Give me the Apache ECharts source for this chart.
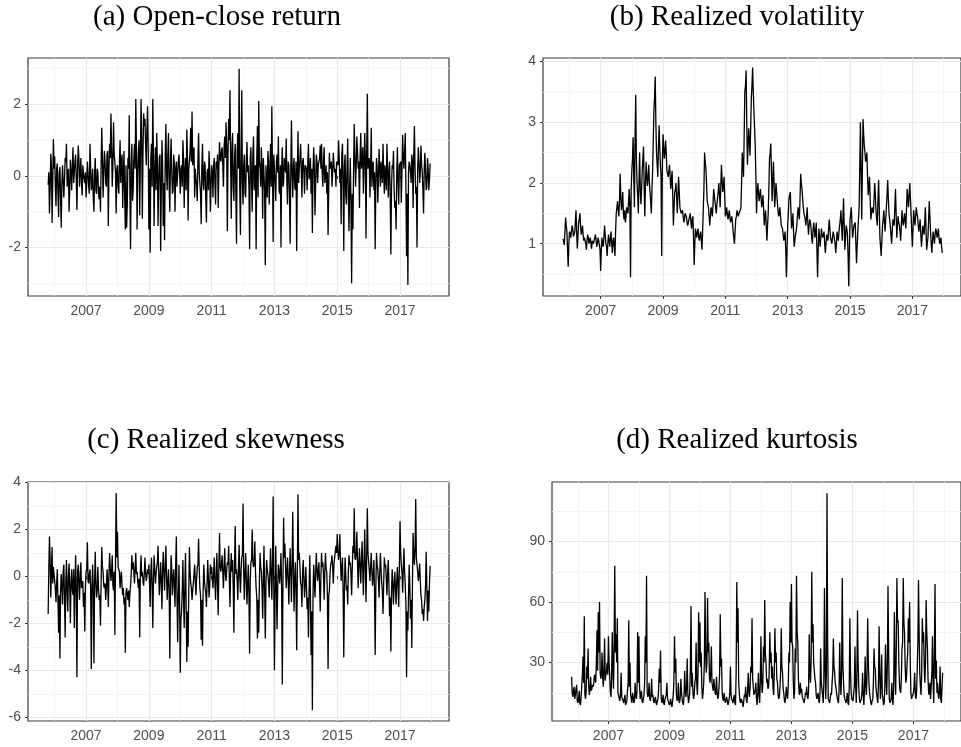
<!DOCTYPE html>
<html><head><meta charset="utf-8">
<script src="https://cdn.jsdelivr.net/npm/echarts@6/dist/echarts.min.js"></script>
<style>html,body{margin:0;padding:0;background:#fff}#c{width:961px;height:747px}</style>
</head><body><div id="c"></div>
<script>
// time index: observations every half month starting mid-Oct 2005,
// plus in-between observations (the *Mid arrays) a quarter month later
const START = 2005 + 19 / 24;
const STEP = 1 / 24;
const yearTicks = [2007, 2009, 2011, 2013, 2015, 2017];
const yearMinor = [2006, 2008, 2010, 2012, 2014, 2016, 2018];

const titles = ['(a) Open-close return', '(b) Realized volatility', '(c) Realized skewness', '(d) Realized kurtosis'];

const ocReturn = [
 -0.25,-1.05,0.62,-1.32,1.03,
 0.55,-0.85,0.35,-1.15,0.25,-1.45,0.3,-0.6,0.5,0.9,-0.35,-1.0,0.45,-0.4,0.8,-0.25,0.6,-0.95,0.85,-0.3,0.5,-0.55,0.3,-0.2,
 -0.6,0.4,-0.3,0.9,-0.4,0.2,-1.0,0.5,-0.5,0.1,-0.65,-1.0,1.35,-0.6,0.7,-0.2,0.6,-1.4,0.9,1.75,-0.3,1.5,0.4,-1.05,
 0.3,-0.5,1.0,0.4,-0.9,0.7,-1.5,-1.45,0.5,1.7,-2.05,0.9,-0.4,0.9,2.15,-1.5,0.7,-1.1,2.15,-1.2,1.75,1.6,0.3,1.95,
 -1.5,-2.15,0.9,2.15,-1.4,0.8,1.2,-1.4,0.5,-2.1,1.0,-1.4,-1.8,1.45,-0.4,1.2,-1.0,1.05,-0.5,0.6,-1.0,0.4,-0.3,0.6,
 -0.5,0.3,1.0,-0.9,0.5,1.3,-1.25,0.4,1.35,1.8,0.6,-0.6,0.2,-0.7,1.2,0.1,-1.35,0.9,-0.4,0.3,-1.3,0.2,0.7,-1.0,
 0.3,-0.6,0.5,-0.8,0.2,-0.9,0.95,0.4,0.8,-0.3,1.1,1.5,-1.55,1.6,2.4,-1.2,1.2,-0.7,0.9,-1.9,1.2,3.0,-1.65,2.4,
 -0.8,0.6,-0.6,0.95,0.3,-2.05,0.8,-1.0,1.1,0.2,-2.05,1.4,2.1,0.2,0.8,-1.2,0.5,-2.5,0.3,0.7,-0.8,0.9,1.95,-1.85,
 0.2,-0.7,0.6,1.1,-0.5,-2.0,0.8,-0.2,0.5,1.05,-0.8,0.3,-1.9,1.55,-0.6,0.5,-0.4,-2.1,1.25,0.2,0.9,-0.6,0.5,-0.5,
 0.3,-0.4,0.9,0.1,-0.5,-1.6,0.8,-1.1,0.6,-0.2,0.4,0.85,0.9,-0.3,0.8,0.1,-0.5,-1.65,0.65,0.2,-0.3,0.65,0.1,-0.3,
 0.4,1.0,-0.2,-1.35,0.9,-2.1,0.6,-0.8,1.05,-1.55,0.5,-3.0,-1.5,1.45,-0.3,1.1,0.2,-0.9,1.2,0.4,-0.5,1.2,-1.75,2.3,
 0.4,-0.6,1.35,0.2,-0.4,-2.05,0.5,-0.75,0.75,-0.3,0.4,0.9,-0.5,0.3,0.9,-0.6,0.4,-2.2,0.3,0.7,-0.9,-1.5,0.8,-0.8,
 0.3,-0.75,1.15,0.2,1.2,-2.25,-3.05,0.4,0.1,0.6,-0.9,1.4,-0.5,-2.0,0.8,-0.2,0.85,0.1,-1.05,0.65,-0.4,0.5,-0.4,0.35
];
const ocReturnMid = [
 0.1,-0.4,0.3,-0.2,0.2,
 -0.3,0.2,-0.5,0.1,-0.6,-0.2,0.3,-0.1,0.4,-0.3,0.2,-0.4,0.1,0.3,-0.2,0.4,-0.1,0.2,0.5,0.1,-0.2,0.3,-0.1,0.1,
 -0.2,0.1,-0.5,0.2,-0.3,-0.6,0.1,-0.4,0.2,-0.5,-0.3,0.3,0.5,0.1,0.4,-0.3,0.7,0.2,0.5,0.8,0.3,0.6,0.1,0.2,
 -0.3,0.4,-0.2,0.6,0.1,-0.6,0.3,-0.8,0.2,-0.5,0.3,-0.7,0.5,0.2,0.8,0.1,1.0,0.4,1.2,0.6,1.4,0.9,1.3,0.8,
 0.2,0.5,-0.3,0.6,0.1,-0.4,0.4,-0.2,0.6,-0.5,0.3,-0.2,0.5,0.1,0.6,-0.3,0.4,0.1,-0.4,0.3,0.2,-0.3,0.4,0.1,
 0.2,-0.3,0.5,0.1,-0.4,0.6,0.2,0.7,0.4,0.3,0.8,0.2,-0.3,0.4,0.1,-0.5,0.3,-0.2,0.4,-0.6,0.1,-0.4,0.2,-0.3,
 0.1,0.3,-0.2,0.4,0.6,0.2,0.5,0.7,0.3,0.8,0.5,0.9,0.6,1.0,0.4,0.8,-0.3,0.5,-0.5,0.7,0.2,-0.4,0.6,-0.2,
 0.3,-0.5,0.4,0.1,-0.3,0.5,-0.2,0.6,-0.4,0.3,0.5,-0.6,0.4,-0.3,0.2,0.5,-0.4,0.3,-0.6,0.4,0.1,-0.3,0.2,0.6,
 -0.2,0.4,0.1,-0.4,0.3,0.2,-0.3,0.5,0.1,-0.2,0.4,-0.5,0.2,0.1,0.3,-0.3,0.4,0.1,-0.2,0.5,0.2,0.4,0.1,0.3,
 0.2,0.4,-0.1,0.5,0.2,0.1,0.3,-0.2,0.4,0.3,0.5,0.2,0.1,0.4,-0.2,0.3,0.1,-0.4,0.2,0.4,0.1,0.3,0.2,0.4,
 0.3,0.5,0.2,0.6,-0.2,0.3,-0.5,0.2,-0.6,-0.3,-0.8,-0.5,0.2,0.6,0.3,0.7,0.4,0.6,0.2,0.8,0.3,0.5,0.6,0.2,
 0.5,0.2,-0.3,0.4,0.1,-0.2,0.3,-0.1,0.2,0.4,-0.2,0.1,0.3,-0.4,0.2,0.1,-0.6,-0.3,0.2,-0.4,-0.7,0.1,-0.2,0.3,
 0.4,0.2,0.5,0.7,-0.3,-0.5,0.1,0.3,-0.2,0.4,0.6,0.2,-0.3,0.2,0.4,0.1,0.3,-0.4,0.2,0.1,-0.3,0.2,-0.1
];

const realVol = [
 1.08,0.98,1.43,1.2,0.62,
 1.2,1.1,1.3,1.12,1.18,1.55,0.92,1.35,1.5,1.15,1.3,1.05,1.12,0.9,1.15,1.0,1.1,0.92,1.08,1.0,1.15,0.95,1.1,0.98,
 0.55,1.1,0.95,1.3,1.0,0.8,1.15,0.95,1.2,0.85,1.1,0.8,1.5,1.7,1.45,2.15,1.55,1.85,1.4,1.35,1.6,1.5,1.9,0.45,
 2.2,2.75,1.6,3.45,2.0,1.5,2.5,1.65,2.2,2.6,1.45,2.35,1.95,2.3,1.85,1.5,2.2,3.2,3.75,2.5,2.1,2.95,2.3,0.8,
 2.8,2.4,2.7,2.2,2.1,2.3,1.9,2.2,1.3,1.85,2.0,1.5,2.1,1.6,1.5,1.55,1.35,1.5,1.45,1.3,1.4,1.5,1.25,1.45,
 0.65,1.25,1.1,1.25,1.05,1.2,0.9,1.55,2.5,2.25,1.7,1.6,1.3,1.6,1.45,1.9,1.7,1.5,1.75,2.0,1.6,2.3,1.85,2.1,
 1.45,1.6,1.4,1.55,1.35,1.45,1.2,1.0,1.4,1.55,1.45,1.5,1.6,2.5,2.1,3.5,3.85,2.3,2.9,2.45,3.4,3.9,3.2,2.6,
 1.5,2.0,1.7,1.9,1.6,1.8,1.3,1.55,1.05,1.5,2.4,2.65,1.7,2.35,1.6,2.0,1.7,1.45,1.6,1.3,1.25,1.05,1.2,0.45,
 1.3,1.75,1.85,1.25,1.5,0.95,1.15,1.3,1.6,1.4,2.15,1.9,1.6,1.45,1.3,1.6,1.15,1.4,1.25,1.0,1.35,1.1,1.35,0.45,
 1.25,0.95,1.25,1.1,1.2,0.85,1.15,1.05,1.4,1.1,1.0,1.2,1.15,0.85,1.2,1.05,1.3,1.55,1.05,1.75,0.9,1.3,1.15,0.3,
 1.4,1.6,1.1,1.3,1.35,0.68,1.2,1.6,3.0,1.4,3.05,2.6,2.35,2.5,1.8,2.1,1.4,1.6,1.5,2.0,1.55,1.3,2.05,1.1,
 0.8,1.3,1.55,1.2,1.6,2.05,1.5,1.3,1.0,1.4,1.3,1.9,1.1,1.45,1.3,1.05,1.55,1.3,1.5,1.25,1.9,1.6,2.0,1.5,
 0.95,1.55,1.3,1.6,1.45,1.2,1.4,0.95,1.3,1.15,1.6,0.9,1.1,1.7,1.2,0.85,1.2,1.0,1.25,1.1,1.25,1.0,1.1,0.85
];
const realVolMid = [
 1.1,1.2,1.3,0.9,1.0,
 1.15,1.2,1.25,1.15,1.35,1.2,1.1,1.4,1.3,1.2,1.15,1.1,1.0,1.05,1.1,1.05,1.0,1.05,1.0,1.1,1.05,1.0,1.05,0.9,
 0.9,1.0,1.1,1.15,0.95,1.0,1.05,1.1,1.0,1.05,0.95,1.2,1.6,1.55,1.7,1.8,1.65,1.5,1.55,1.45,1.55,1.7,1.6,1.9,
 2.4,2.1,2.8,2.4,1.8,2.0,1.9,1.9,2.4,1.9,2.0,2.1,2.1,2.0,1.7,1.9,2.7,3.4,3.0,2.3,2.6,2.6,2.1,2.3,
 2.6,2.5,2.5,2.15,2.2,2.1,2.05,1.8,1.6,1.9,1.75,1.8,1.85,1.55,1.5,1.45,1.4,1.5,1.35,1.35,1.45,1.35,1.4,1.1,
 1.0,1.15,1.2,1.1,1.15,1.05,1.2,1.9,2.35,2.0,1.65,1.45,1.45,1.55,1.65,1.8,1.6,1.65,1.85,1.8,1.95,2.05,1.95,1.8,
 1.5,1.5,1.45,1.45,1.4,1.35,1.1,1.2,1.45,1.5,1.5,1.55,2.0,2.3,2.8,3.6,3.0,2.6,2.7,2.9,3.6,3.5,2.9,2.1,
 1.8,1.85,1.8,1.75,1.7,1.55,1.45,1.3,1.3,1.9,2.5,2.2,2.0,2.0,1.8,1.85,1.55,1.5,1.45,1.3,1.15,1.1,0.9,0.9,
 1.5,1.8,1.55,1.35,1.2,1.05,1.2,1.45,1.5,1.75,2.0,1.75,1.5,1.4,1.45,1.35,1.3,1.35,1.1,1.2,1.25,1.2,0.9,0.9,
 1.1,1.1,1.15,1.15,1.0,1.0,1.1,1.25,1.25,1.05,1.1,1.15,1.0,1.0,1.1,1.2,1.4,1.3,1.4,1.3,1.1,1.25,0.8,0.9,
 1.5,1.3,1.2,1.3,1.0,0.95,1.4,2.3,2.2,2.2,2.8,2.5,2.4,2.1,1.95,1.75,1.5,1.55,1.75,1.8,1.4,1.7,1.6,0.95,
 1.05,1.4,1.35,1.4,1.8,1.75,1.4,1.15,1.2,1.35,1.6,1.5,1.3,1.35,1.2,1.3,1.4,1.4,1.35,1.6,1.75,1.8,1.75,1.2,
 1.25,1.4,1.45,1.5,1.3,1.3,1.15,1.1,1.2,1.35,1.25,1.0,1.4,1.45,1.0,1.05,1.1,1.15,1.2,1.15,1.1,1.05,0.95
];

const realSkew = [
 -1.6,1.7,-0.9,1.25,0.4,
 -0.2,-1.1,0.3,-2.4,-3.5,0.1,-1.2,0.5,-2.6,0.7,-1.5,0.55,-2.0,0.3,-0.8,-2.2,0.9,-4.3,0.5,-1.0,0.6,-0.3,-1.3,-2.35,
 0.2,1.45,-0.3,0.3,-3.95,0.5,-3.7,1.05,-0.9,0.4,-1.0,-2.1,1.25,0.2,-0.5,-1.0,0.3,-1.3,1.0,-0.2,0.9,-0.6,-2.5,3.55,
 1.9,0.3,-0.5,0.2,-0.8,-1.2,-3.25,-0.5,-1.0,-1.3,-0.4,0.9,0.6,-0.3,1.0,0.2,-0.5,-2.6,0.9,0.2,-0.4,0.8,-0.2,0.3,
 0.5,-1.3,0.8,-2.2,0.9,-0.3,0.4,1.3,-0.8,0.6,-1.4,1.05,-0.6,1.3,-1.0,0.3,-3.5,0.9,-0.8,0.3,-1.3,1.7,-2.8,0.5,
 -4.1,-1.5,0.7,-2.2,1.0,-3.65,-3.0,1.25,-0.3,-1.0,-0.3,0.5,-0.8,0.4,1.6,-0.5,-2.7,-2.95,0.5,-0.5,-1.3,0.7,-0.9,0.5,
 0.4,-0.5,0.8,-1.0,1.0,-1.65,1.85,0.2,0.9,-0.5,1.2,-0.2,0.6,1.3,-1.3,1.0,0.7,-2.4,2.15,0.3,-1.0,1.35,-0.7,0.8,
 3.1,-1.0,1.0,-1.2,0.5,-3.3,0.6,2.0,0.4,1.5,-0.5,-2.65,-2.4,1.0,0.2,-1.8,1.3,-2.65,0.7,0.1,-0.9,1.2,-1.0,3.4,
 -4.0,1.3,-2.25,0.5,-0.3,1.0,-4.6,2.5,1.4,-0.5,0.8,-1.2,1.2,-1.1,2.75,-1.5,0.6,-3.15,3.5,1.0,-0.3,-1.3,0.7,-0.9,
 0.4,-1.4,-2.6,0.9,-3.35,-5.7,0.5,-0.9,1.0,-0.2,0.6,-1.5,1.0,0.6,-1.0,1.0,0.2,-3.95,-0.6,0.5,0.9,-0.3,0.8,1.3,
 1.8,0.7,1.8,-0.2,0.8,-3.45,0.8,-0.6,-1.2,0.9,0.6,-0.8,1.3,2.9,0.7,1.9,-0.5,1.2,-0.3,1.5,-0.8,2.0,-1.1,2.9,
 0.6,-0.2,1.0,-0.4,0.7,-3.35,1.0,0.3,-0.9,1.0,-0.3,-1.6,0.8,0.5,-0.8,0.7,-1.7,-3.2,0.3,-1.2,0.2,-1.2,0.4,-1.3,
 2.35,0.5,-0.7,1.2,-0.4,-4.3,-2.3,0.5,-1.8,-3.05,1.85,0.5,3.3,0.5,-0.2,0.55,-0.8,-1.6,-1.9,-1.0,1.05,-1.9,-1.5,0.45
];
const realSkewMid = [
 0.3,0.8,0.2,-0.3,0.1,
 -0.5,-0.3,-1.0,-0.8,-0.6,-0.4,0.2,-0.9,-0.3,-0.7,0.1,-0.5,-0.2,-0.6,0.3,-0.4,-0.8,0.2,-0.3,0.1,-0.5,-0.2,-0.7,-0.4,
 0.3,-0.2,0.1,-0.6,-0.4,-0.7,-0.2,-0.3,-0.6,-0.5,-0.8,-0.2,0.4,-0.4,-0.3,-0.5,-0.2,0.1,0.3,0.2,-0.4,0.2,0.6,0.8,
 0.4,0.2,-0.1,-0.4,-0.5,-0.9,-0.7,-0.8,-0.6,-0.7,0.1,0.3,0.2,0.4,0.1,-0.2,-0.1,0.2,0.0,-0.2,0.1,0.2,0.0,0.1,
 -0.3,0.2,-0.4,-0.2,0.3,0.1,0.6,0.2,-0.1,-0.3,0.3,0.2,0.4,0.1,-0.3,-0.5,-0.6,0.3,-0.2,-0.4,0.5,-0.8,-0.9,-1.2,
 -1.8,-0.6,-0.9,-0.4,-1.1,-1.5,-0.7,0.2,-0.5,-0.6,0.1,-0.2,-0.1,0.5,0.3,-0.8,-1.0,-0.6,-0.2,-0.7,-0.3,-0.1,-0.4,0.1,
 -0.1,0.2,-0.3,0.1,-0.4,0.3,0.4,0.5,0.2,0.4,0.1,0.3,0.5,-0.1,0.3,0.2,-0.5,0.6,0.1,-0.2,0.4,0.0,0.2,0.9,
 0.2,0.1,-0.2,-0.3,-0.8,-0.2,0.7,0.6,0.5,0.2,-0.9,-1.0,-0.2,0.4,-0.5,-0.1,-0.6,-0.4,0.3,-0.3,0.2,0.1,0.6,-0.5,
 -0.8,-0.5,-0.4,0.2,0.3,-0.6,-0.3,0.8,0.4,0.2,-0.1,0.1,0.2,0.6,0.3,-0.2,-0.6,0.2,0.7,0.4,-0.4,0.2,-0.1,-0.3,
 -0.5,-0.9,-0.6,-0.8,-1.5,-0.7,-0.2,0.1,0.3,0.2,-0.4,-0.1,0.4,0.1,0.2,0.3,-0.9,-0.8,0.1,0.6,0.4,0.5,0.8,1.0,
 1.1,1.0,0.6,0.4,-0.6,-0.5,0.1,-0.4,0.2,0.5,0.1,0.4,1.0,0.8,1.0,0.6,0.5,0.4,0.7,0.3,0.6,0.4,0.8,1.0,
 0.3,0.4,0.2,0.1,-0.6,-0.5,0.5,-0.2,0.2,0.3,-0.6,-0.3,0.4,-0.1,0.1,-0.3,-0.9,-0.7,-0.4,-0.3,-0.5,-0.2,-0.4,0.4,
 1.0,0.2,0.3,0.2,-1.2,-1.5,-0.8,-0.5,-1.0,-0.3,0.9,1.2,0.8,0.2,0.1,-0.2,-1.0,-1.4,-1.3,-0.4,-0.5,-0.6,-0.3
];

const realKurt = [
 23,13,18,14,19,
 10,16,9,18,33,53,12,28,37,14,23,17,18,24,20,46,55,60,22,35,18,42,24,30,
 43,24,13,45,17,78,44,52,14,11,25,12,10,14,9,16,51,30,12,15,10,20,12,45,
 43,12,16,10,14,43,73,13,20,11,22,14,10,13,9,12,27,36,10,14,9,13,20,11,
 9,12,8,14,43,32,11,20,10,22,12,9,26,13,32,10,15,58,25,12,20,40,14,55,
 50,35,12,20,65,25,62,40,20,38,18,22,15,23,12,18,54,32,12,15,10,13,9,12,
 28,12,10,14,9,70,57,15,10,12,8,14,18,10,25,13,28,52,18,15,20,9,25,10,
 43,15,38,61,30,22,18,45,35,28,14,47,35,20,12,18,47,25,15,10,18,12,35,60,
 69,38,12,37,73,40,15,20,17,12,10,15,18,12,44,20,75,49,30,20,12,15,10,37,
 20,10,67,12,114,12,10,15,20,42,25,18,15,10,40,14,72,20,12,10,15,9,52,15,
 12,15,38,10,56,18,10,12,25,9,33,14,52,20,15,9,12,37,27,15,10,48,12,34,
 12,10,39,14,68,12,10,20,9,55,14,72,51,20,15,37,72,45,20,30,52,60,15,12,
 15,25,12,27,71,25,14,52,45,20,61,38,15,20,12,43,10,69,31,20,12,28,10,25
];
const realKurtMid = [
 15,16,12,17,11,
 12,10,13,24,20,14,16,22,18,17,16,19,20,22,30,26,35,25,24,22,28,21,26,24,
 30,16,22,28,40,35,30,15,12,14,13,11,12,9,11,20,18,14,10,13,11,14,16,20,
 18,13,11,12,20,30,15,14,12,14,13,11,12,10,11,17,20,13,11,10,12,14,12,10,
 10,9,11,20,25,14,12,11,13,15,10,14,16,18,14,12,28,18,15,14,22,20,25,30,
 28,18,15,30,35,30,35,22,25,20,16,18,14,16,13,25,28,15,11,12,10,11,10,15,
 14,11,12,10,25,40,20,11,12,10,11,13,12,15,16,18,25,22,14,16,12,15,14,20,
 22,20,30,35,20,17,25,30,22,18,25,30,22,14,13,25,28,17,11,13,14,18,30,40,
 40,20,16,30,45,22,14,15,13,11,12,14,13,16,25,30,40,30,22,14,12,11,15,20,
 14,20,30,25,40,11,12,14,25,28,20,15,11,16,22,25,30,14,11,12,10,18,25,12,
 11,18,20,22,30,12,10,15,14,16,20,25,30,15,10,11,20,28,18,12,20,25,20,14,
 9,18,22,30,35,10,12,11,20,28,35,50,30,16,22,40,50,28,22,35,40,30,12,14,
 18,14,16,40,45,18,25,40,28,30,45,22,14,12,25,20,35,22,15,14,16,12,18
];

const yRanges = [
  {min: -3.36, max: 3.3, major: [-2, 0, 2], minor: [-3, -1, 1, 3]},
  {min: 0.14, max: 4.056, major: [1, 2, 3, 4], minor: [0.5, 1.5, 2.5, 3.5]},
  {min: -6.16, max: 4.02, major: [-6, -4, -2, 0, 2, 4], minor: [-5, -3, -1, 1, 3]},
  {min: 1.04, max: 119.55, major: [30, 60, 90], minor: [15, 45, 75, 105]}
];
const XMIN = 2005.15, XMAX = 2018.56;

const seriesMain = [ocReturn, realVol, realSkew, realKurt];
const seriesMid = [ocReturnMid, realVolMid, realSkewMid, realKurtMid];
const grids = [
  {left: 28, top: 58, width: 421, height: 238},
  {left: 543, top: 58, width: 426, height: 238},
  {left: 28, top: 482, width: 421, height: 239},
  {left: 552, top: 482, width: 420, height: 239}
];
const titlePos = [[217, 17], [737, 17], [216, 440], [737, 440]];

function buildData(main, mid) {
  const out = [];
  main.forEach((v, k) => {
    out.push([START + k * STEP, v]);
    if (k < main.length - 1 && k < mid.length) out.push([START + (k + 0.5) * STEP, mid[k]]);
  });
  return out;
}

const LABEL = {color: '#4d4d4d', fontSize: 14, fontFamily: 'Liberation Sans, Arial, sans-serif'};
const xAxes = [], yAxes = [], series = [];
grids.forEach((g, i) => {
  xAxes.push({
    type: 'value', gridIndex: i, min: XMIN, max: XMAX, position: 'bottom',
    axisLine: {show: false},
    axisTick: {show: true, length: 3, lineStyle: {color: '#333', width: 1}, customValues: yearTicks},
    axisLabel: Object.assign({customValues: yearTicks, margin: 8, formatter: v => String(Math.round(v))}, LABEL),
    splitLine: {show: true, lineStyle: {color: '#e8e8e8', width: 1.2}}
  });
  xAxes.push({
    type: 'value', gridIndex: i, min: XMIN, max: XMAX, position: 'top',
    axisLine: {show: false},
    axisTick: {show: false, customValues: yearMinor},
    axisLabel: {show: false, customValues: yearMinor},
    splitLine: {show: true, lineStyle: {color: '#f2f2f2', width: 0.8}}
  });
  const r = yRanges[i];
  yAxes.push({
    type: 'value', gridIndex: i, min: r.min, max: r.max, position: 'left',
    axisLine: {show: false},
    axisTick: {show: true, length: 3, lineStyle: {color: '#333', width: 1}, customValues: r.major},
    axisLabel: Object.assign({customValues: r.major, margin: 7, formatter: v => String(Math.round(v * 100) / 100)}, LABEL),
    splitLine: {show: true, lineStyle: {color: '#e8e8e8', width: 1.2}}
  });
  yAxes.push({
    type: 'value', gridIndex: i, min: r.min, max: r.max, position: 'right',
    axisLine: {show: false},
    axisTick: {show: false, customValues: r.minor},
    axisLabel: {show: false, customValues: r.minor},
    splitLine: {show: true, lineStyle: {color: '#f2f2f2', width: 0.8}}
  });
  series.push({
    type: 'line', xAxisIndex: 2 * i, yAxisIndex: 2 * i,
    data: buildData(seriesMain[i], seriesMid[i]),
    showSymbol: false, symbol: 'none', silent: true,
    lineStyle: {color: '#000', width: 1.3}, z: 5
  });
});

const chart = echarts.init(document.getElementById('c'), null, {renderer: 'canvas'});
chart.setOption({
  animation: false,
  backgroundColor: '#fff',
  grid: grids.map(g => Object.assign({show: true, borderColor: '#3a3a3a', borderWidth: 1.2, backgroundColor: 'transparent', containLabel: false}, g)),
  xAxis: xAxes,
  yAxis: yAxes,
  series: series,
  graphic: titles.map((t, i) => ({
    type: 'text', x: titlePos[i][0], y: titlePos[i][1], z: 10,
    style: {text: t, fill: '#000', font: '29px "Liberation Serif", serif', textAlign: 'center', textVerticalAlign: 'middle'}
  }))
});
</script>
</body></html>
